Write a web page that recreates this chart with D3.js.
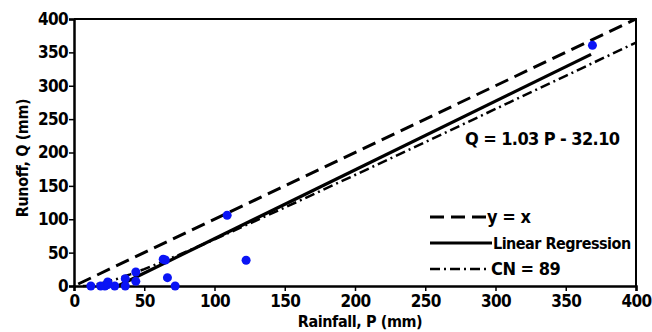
<!DOCTYPE html>
<html>
<head>
<meta charset="utf-8">
<script src="https://cdn.jsdelivr.net/npm/d3@7"></script>
<style>
  body { margin: 0; background: #fff; }
  text { font-family: "DejaVu Sans", sans-serif; font-stretch: condensed; font-weight: 700; fill: #000; }
</style>
</head>
<body>
<div id="chart"></div>
<script>
'use strict';
// observed events: rainfall P (mm) and runoff Q (mm)
const rainfall = [12, 19, 22, 24, 24, 29, 36.5, 36.5, 44, 44, 63.5, 65, 66.5, 72, 109, 122.5, 369];
const runoff   = [0, 0, 0, 2, 6, 0, 11, 0, 21, 7, 40, 39, 12.5, 0, 106, 38.5, 360.5];
// 1:1 line
const lineYX = [[3, 3], [400, 400]];
// fitted regression line, Q = 1.03 P - 32.10
const lineReg = [[31.2, 0], [368, 347]];
// CN = 89 curve
const cnP = [6.3, 10, 20, 30, 40, 50, 75, 100, 150, 200, 250, 300, 350, 400];
const cnQ = [0, 0.4, 4.2, 10.2, 17.4, 25.2, 46.8, 69.8, 117.5, 166.3, 215.6, 265.2, 314.9, 364.7];
const xTicks = [0, 50, 100, 150, 200, 250, 300, 350, 400];
const yTicks = [0, 50, 100, 150, 200, 250, 300, 350, 400];

const margin = {left: 74, right: 16, top: 19, bottom: 46};
const W = 652, H = 332;
const width = W - margin.left - margin.right;
const height = H - margin.top - margin.bottom;

const x = d3.scaleLinear().domain([0, 400]).range([0, width]);
const y = d3.scaleLinear().domain([0, 400]).range([height, 0]);

const svg = d3.select("#chart").append("svg")
    .attr("width", W)
    .attr("height", H)
    .append("g")
    .attr("transform", "translate(" + margin.left + "," + margin.top + ")");

const line = d3.line().x(d => x(d[0])).y(d => y(d[1]));

// plot frame (top and right)
svg.append("path")
    .attr("d", "M0,0H" + width + "V" + height)
    .attr("fill", "none")
    .attr("stroke", "#000")
    .attr("stroke-width", 2);

// x axis
const xAxis = svg.append("g")
    .attr("transform", "translate(0," + height + ")")
    .call(d3.axisBottom(x).tickValues(xTicks).tickSize(5).tickPadding(2));
// y axis
const yAxis = svg.append("g")
    .call(d3.axisLeft(y).tickValues(yTicks).tickSize(5).tickPadding(1));
[xAxis, yAxis].forEach(function(g) {
    g.select(".domain").attr("stroke-width", 2.5);
    g.selectAll(".tick line").attr("stroke-width", 1.5);
    g.selectAll(".tick text")
        .style("font-family", "'DejaVu Sans', sans-serif")
        .style("font-stretch", "condensed")
        .style("font-weight", 700)
        .style("font-size", "17px")
        .style("letter-spacing", "-0.6px");
});
xAxis.selectAll(".tick text").attr("dy", "0.8em");

// lines
svg.append("path").datum(lineYX)
    .attr("d", line).attr("fill", "none").attr("stroke", "#000")
    .attr("stroke-width", 3).attr("stroke-dasharray", "14,7");
svg.append("path").datum(lineReg)
    .attr("d", line).attr("fill", "none").attr("stroke", "#000")
    .attr("stroke-width", 3.2);
svg.append("path").datum(cnP.map((p, i) => [p, cnQ[i]]))
    .attr("d", line).attr("fill", "none").attr("stroke", "#000")
    .attr("stroke-width", 2.5).attr("stroke-dasharray", "10,4,2,4");

// points
svg.selectAll("circle")
    .data(rainfall.map((p, i) => [p, runoff[i]]))
    .enter().append("circle")
    .attr("cx", d => x(d[0]))
    .attr("cy", d => y(d[1]))
    .attr("r", 4.5)
    .attr("fill", "#0a14f5");

// equation
svg.append("text")
    .attr("x", 391).attr("y", 126)
    .style("font-size", "18px")
    .style("letter-spacing", "-0.6px")
    .text("Q = 1.03 P - 32.10");

// legend
const legend = [
    {label: "y = x", dash: "14,7", w: 3, len: 56},
    {label: "Linear Regression", dash: null, w: 3.2, len: 62},
    {label: "CN = 89", dash: "10,4,2,4", w: 2.5, len: 60}
];
const lg = svg.append("g").attr("transform", "translate(356,198)");
legend.forEach(function(d, i) {
    lg.append("line")
        .attr("x1", 0).attr("x2", d.len)
        .attr("y1", i * 26).attr("y2", i * 26)
        .attr("stroke", "#000").attr("stroke-width", d.w)
        .attr("stroke-dasharray", d.dash);
    lg.append("text")
        .attr("x", d.len + 1).attr("y", i * 26)
        .attr("dy", "0.35em")
        .style("font-size", i === 1 ? "16px" : "18px")
        .style("letter-spacing", "-0.5px")
        .text(d.label);
});

// axis titles
svg.append("text")
    .attr("x", 286).attr("y", height + 41)
    .attr("text-anchor", "middle")
    .style("font-size", "16px")
    .style("letter-spacing", "-0.4px")
    .text("Rainfall, P (mm)");
svg.append("text")
    .attr("transform", "rotate(-90)")
    .attr("x", -139).attr("y", -46)
    .attr("text-anchor", "middle")
    .style("font-size", "16px")
    .style("letter-spacing", "-0.4px")
    .text("Runoff, Q (mm)");
</script>
</body>
</html>
